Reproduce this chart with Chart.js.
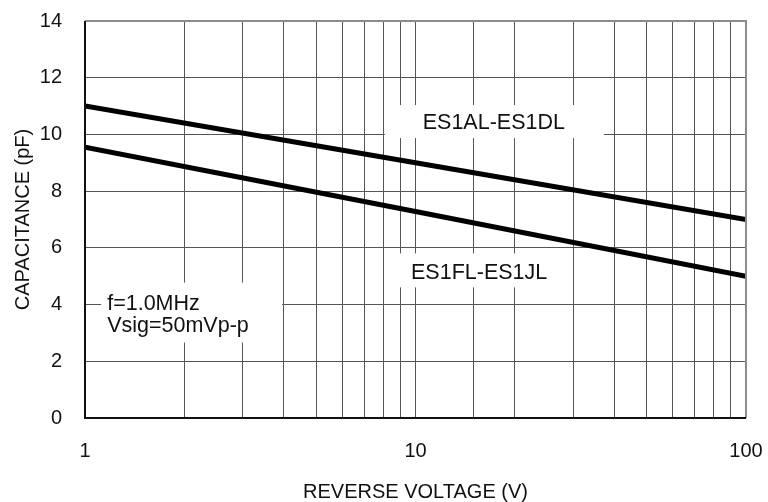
<!DOCTYPE html>
<html>
<head>
<meta charset="utf-8">
<script src="https://cdn.jsdelivr.net/npm/chart.js@4/dist/chart.umd.min.js"></script>
<style>
  html, body { margin: 0; padding: 0; background: #fff; }
  #wrap { width: 768px; height: 502px; position: relative; }
</style>
</head>
<body>
<div id="wrap"><canvas id="c" width="768" height="502"></canvas></div>
<script>
// ---- data ----
const reverseVoltage = [1, 10, 100];               // V (log axis)
const capES1AL_ES1DL = [11.0, 9.0, 7.0];           // pF
const capES1FL_ES1JL = [9.55, 7.28, 5.0];          // pF
const seriesNames = ['ES1AL-ES1DL', 'ES1FL-ES1JL'];
const xTickLabels = [1, 10, 100];
const yMin = 0, yMax = 14, yStep = 2;
const xTitle = 'REVERSE VOLTAGE (V)';
const yTitle = 'CAPACITANCE (pF)';
const noteLines = ['f=1.0MHz', 'Vsig=50mVp-p'];

const FONT = "'Liberation Sans', Arial, Helvetica, sans-serif";

function pts(xs, ys) { return xs.map((x, i) => ({ x: x, y: ys[i] })); }

// annotations anchored in data coordinates; box = pixel extents around anchor
const annotations = [
  { lines: [seriesNames[0]], x: 17.26, y: 10.40, align: 'center', box: [-109, -18, 110, 15] },
  { lines: [seriesNames[1]], x: 15.58, y: 5.10, align: 'center', box: [-89, -20, 91, 14] },
  { lines: noteLines, x: 1.167, y: 4.0, align: 'left', box: [-6, -22, 175, 38] }
];

const annotationPlugin = {
  id: 'notes',
  beforeDatasetsDraw(chart) {
    const ctx = chart.ctx, xs = chart.scales.x, ys = chart.scales.y;
    ctx.save();
    ctx.font = '21.5px ' + FONT;
    ctx.textBaseline = 'middle';
    annotations.forEach(a => {
      const px = xs.getPixelForValue(a.x), py = ys.getPixelForValue(a.y);
      ctx.fillStyle = '#fff';
      ctx.fillRect(px + a.box[0], py + a.box[1], a.box[2] - a.box[0], a.box[3] - a.box[1]);
      ctx.fillStyle = '#111';
      ctx.textAlign = a.align;
      a.lines.forEach((t, i) => ctx.fillText(t, px, py + i * 22));
    });
    ctx.restore();
  },
  afterDatasetsDraw(chart) {
    const ctx = chart.ctx, a = chart.chartArea;
    ctx.save();
    ctx.lineWidth = 2;
    ctx.strokeStyle = '#8c8c8c';
    ctx.beginPath();
    ctx.moveTo(a.left, a.top); ctx.lineTo(a.right, a.top); ctx.lineTo(a.right, a.bottom);
    ctx.stroke();
    ctx.strokeStyle = '#111';
    ctx.beginPath();
    ctx.moveTo(a.left, a.top); ctx.lineTo(a.left, a.bottom); ctx.lineTo(a.right, a.bottom);
    ctx.stroke();
    ctx.restore();
  }
};

new Chart(document.getElementById('c'), {
  type: 'line',
  data: {
    datasets: [
      { label: seriesNames[0], data: pts(reverseVoltage, capES1AL_ES1DL), borderColor: '#000', borderWidth: 5, pointRadius: 0, tension: 0 },
      { label: seriesNames[1], data: pts(reverseVoltage, capES1FL_ES1JL), borderColor: '#000', borderWidth: 5, pointRadius: 0, tension: 0 }
    ]
  },
  options: {
    responsive: false,
    animation: false,
    devicePixelRatio: 1,
    layout: { padding: { top: 21, right: 22, left: 0, bottom: 0 } },
    plugins: { legend: { display: false }, tooltip: { enabled: false } },
    scales: {
      x: {
        type: 'logarithmic',
        min: 1, max: 100,
        afterFit(s) { s.height = 84; s.paddingLeft = 0; s.paddingRight = 0; },
        grid: { color: '#555', lineWidth: 1, drawTicks: false },
        border: { display: false },
        ticks: {
          autoSkip: false, maxRotation: 0, padding: 21,
          color: '#111', font: { family: FONT, size: 20 },
          callback(v) { return xTickLabels.includes(v) ? String(v) : ''; }
        },
        title: { display: true, text: xTitle, color: '#111', font: { family: FONT, size: 20, lineHeight: 1 }, padding: { top: 0, bottom: 0 } }
      },
      y: {
        min: yMin, max: yMax,
        afterFit(s) { s.width = 85; s.paddingTop = 0; s.paddingBottom = 0; },
        grid: { color: '#555', lineWidth: 1, drawTicks: false },
        border: { display: false },
        ticks: { stepSize: yStep, padding: 23, color: '#111', font: { family: FONT, size: 20 } },
        title: { display: true, text: yTitle, color: '#111', font: { family: FONT, size: 20, lineHeight: 1 }, padding: { top: 13, bottom: 0 } }
      }
    }
  },
  plugins: [annotationPlugin]
});
</script>
</body>
</html>
